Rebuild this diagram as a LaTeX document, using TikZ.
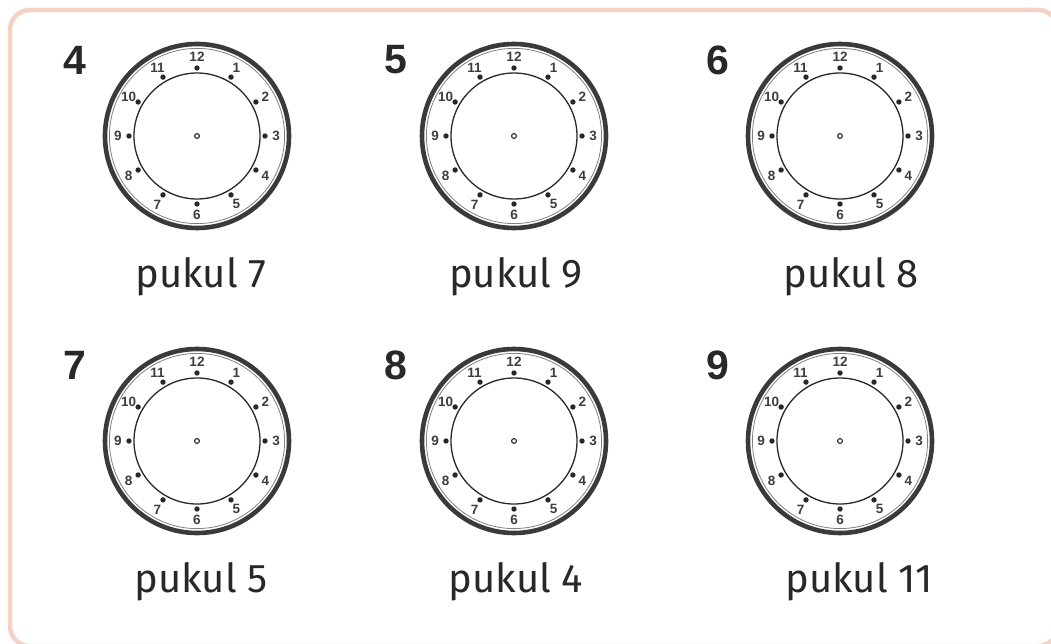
\documentclass[tikz,border=0pt]{standalone}
\usepackage{fontspec}
\setmainfont{Fira Sans}
\newfontfamily\numfont{Liberation Sans}
\usepackage{tikz}
\usetikzlibrary{positioning}
\definecolor{framepink}{RGB}{245,210,198}
\definecolor{rimgray}{RGB}{58,58,58}
\definecolor{inkgray}{RGB}{40,40,40}

\begin{document}
\begin{tikzpicture}[
        x=1pt, y=-1pt,
        qnum/.style = {font=\numfont\bfseries\fontsize{41}{41}\selectfont, text=inkgray},
        hour/.style = {font=\numfont\bfseries\fontsize{13.5}{14}\selectfont, text=inkgray!90, inner sep=0pt},
        caption/.style = {font=\fontsize{40}{44}\selectfont, text=inkgray, anchor=base},
        rim/.style = {draw=rimgray, line width=4.6pt},
        face/.style = {draw=inkgray, line width=1.3pt}
    ]
    \useasboundingbox (0,0) rectangle (1051,644);

    % Frame
    \begin{scope}
        \clip (0,0) rectangle (1051,644);
        \draw [framepink, line width=4.5pt, rounded corners=20pt] (10,10) rectangle (1058,646);
    \end{scope}

    % Clocks: centre x / centre y / question / hour / number x / caption x
    \foreach \cx/\cy/\q/\hr/\qx/\lx in {197/136/4/7/75/201, 514/136/5/9/396/516, 840/136/6/8/718/851,
                                         197/441/7/5/75/201, 514/441/8/4/396/516, 840/441/9/11/718/859} {
        \node (q\q) [qnum] at (\qx,\cy-76) {\q};

        \begin{scope}[shift={(\cx,\cy)}]
            \fill [white] (0,0) circle (94pt);
            \draw [rim] (0,0) circle (92pt);
            \draw [gray, line width=0.8pt] (0,0) circle (87.6pt);
            \draw [face] (0,0) circle (63pt);
            \draw [inkgray, line width=1.1pt] (0,0) circle (2.4pt);
            \foreach \h in {1,...,12} {
                \fill [inkgray] (\h*30-90:68) circle (2.7pt);
                \node [hour] at (\h*30-90:79) {\h};
            }
        \end{scope}

        \node (cap\q) [caption] at (\lx,\cy+151) {pukul \hr};
    }

\end{tikzpicture}
\end{document}
